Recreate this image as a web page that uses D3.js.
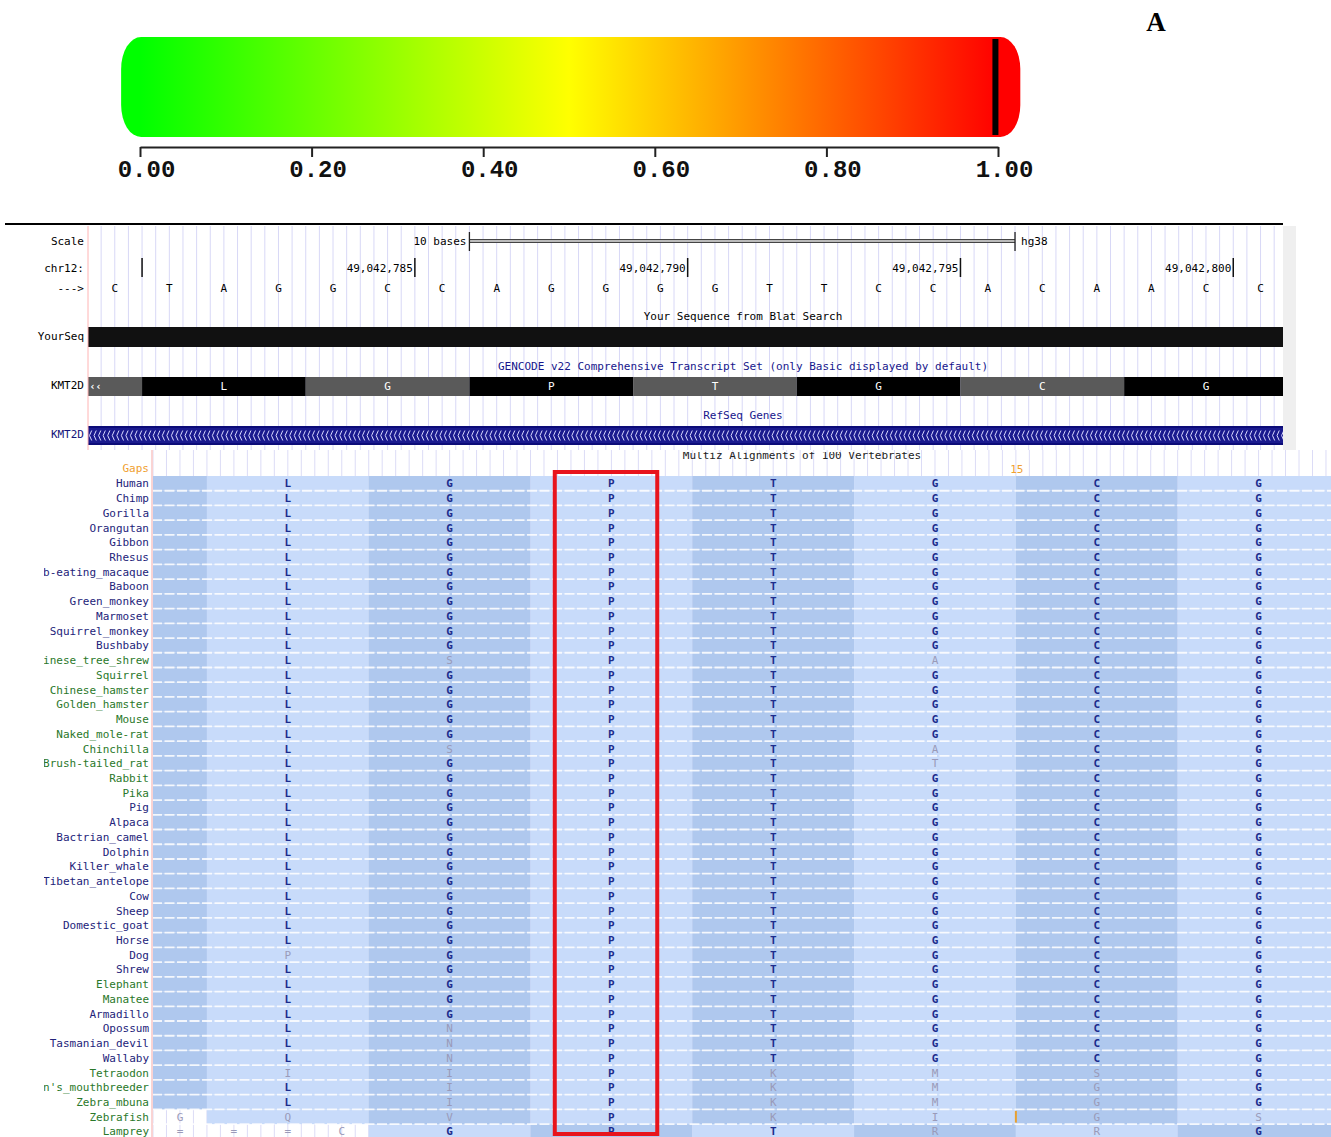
<!DOCTYPE html>
<html><head><meta charset="utf-8">
<script src="https://cdn.jsdelivr.net/npm/d3@7"></script>
<style>
body{margin:0;background:#fff}
svg{display:block}
text{font-family:"DejaVu Sans Mono",monospace;font-size:11px}
</style>
</head><body>
<svg id="c" width="1331" height="1137"></svg>
<script>
// ---------------- DATA ----------------
const colorStops = [{v:0,c:"#00ff00"},{v:0.5,c:"#ffff00"},{v:1,c:"#ff0000"}];
const colorTicks = [0,0.2,0.4,0.6,0.8,1.0];
const scoreMarker = 0.997;

const refBases = ["C","T","A","G","G","C","C","A","G","G","G","G","T","T","C","C","A","C","A","A","C","C"];
const firstBoundaryPos = 49042779;           // boundary index b <-> genomic position firstBoundaryPos + b
const posTicks = [49042780,49042785,49042790,49042795,49042800];
const scaleBar = {from:7, to:17, label:"10 bases", assembly:"hg38"};
const codonAA = ["L","G","P","T","G","C","G"];  // codon k covers bases 1+3k .. 4+3k

const species = ["Human","Chimp","Gorilla","Orangutan","Gibbon","Rhesus","Crab-eating_macaque","Baboon",
 "Green_monkey","Marmoset","Squirrel_monkey","Bushbaby","Chinese_tree_shrew","Squirrel","Chinese_hamster",
 "Golden_hamster","Mouse","Naked_mole-rat","Chinchilla","Brush-tailed_rat","Rabbit","Pika","Pig","Alpaca",
 "Bactrian_camel","Dolphin","Killer_whale","Tibetan_antelope","Cow","Sheep","Domestic_goat","Horse","Dog",
 "Shrew","Elephant","Manatee","Armadillo","Opossum","Tasmanian_devil","Wallaby","Tetraodon",
 "Burton's_mouthbreeder","Zebra_mbuna","Zebrafish","Lamprey"];
const greenSpecies = ["Chinese_tree_shrew","Squirrel","Chinese_hamster","Golden_hamster","Mouse","Naked_mole-rat",
 "Chinchilla","Brush-tailed_rat","Rabbit","Pika","Elephant","Manatee","Tetraodon","Burton's_mouthbreeder",
 "Zebra_mbuna","Zebrafish","Lamprey"];
const rowAA = [
 "LGPTGCG","LGPTGCG","LGPTGCG","LGPTGCG","LGPTGCG","LGPTGCG","LGPTGCG","LGPTGCG",
 "LGPTGCG","LGPTGCG","LGPTGCG","LGPTGCG","LSPTACG","LGPTGCG","LGPTGCG",
 "LGPTGCG","LGPTGCG","LGPTGCG","LSPTACG","LGPTTCG","LGPTGCG","LGPTGCG","LGPTGCG","LGPTGCG",
 "LGPTGCG","LGPTGCG","LGPTGCG","LGPTGCG","LGPTGCG","LGPTGCG","LGPTGCG","LGPTGCG","PGPTGCG",
 "LGPTGCG","LGPTGCG","LGPTGCG","LGPTGCG","LNPTGCG","LNPTGCG","LNPTGCG","IIPKMSG",
 "LIPKMGG","LIPKMGG","QVPKIGS"," GPTRRG"];
const leadCells = {"Zebrafish":"G","Lamprey":"===C"};
const flippedRows = ["Lamprey"];
const insertions = [{species:"Zebrafish", base:16}];
const gapsMarks = [{base:16, label:"15"}];
const highlight = {from:7.45, to:9.35};

// ---------------- DRAW ----------------
const svg = d3.select("#c");
const defs = svg.append("defs");

// ---- colour bar ----
const cx = d3.scaleLinear([0,1],[140,998]);
const grad = defs.append("linearGradient").attr("id","heat")
  .attr("gradientUnits","userSpaceOnUse").attr("x1",cx(0)).attr("x2",cx(1)).attr("y1",0).attr("y2",0);
grad.selectAll("stop").data(colorStops).join("stop")
  .attr("offset",d=>d.v).attr("stop-color",d=>d.c);
svg.append("rect").attr("x",cx(-0.022)).attr("y",37).attr("width",cx(1.026)-cx(-0.022)).attr("height",100)
  .attr("rx",20).attr("ry",32).attr("fill","url(#heat)");
svg.append("rect").attr("x",cx(scoreMarker)-3).attr("y",39).attr("width",6).attr("height",96).attr("fill","#000");
const ax = svg.append("g").attr("transform","translate(0,147)")
  .call(d3.axisBottom(cx).tickValues(colorTicks).tickFormat(d3.format(".2f")).tickSize(10).tickSizeOuter(0).tickPadding(3));
ax.select(".domain").attr("stroke","#222").attr("stroke-width",2);
ax.selectAll(".tick line").attr("stroke","#222").attr("stroke-width",2);
ax.selectAll(".tick text").style("font-family","'Liberation Mono',monospace").style("font-size","24px")
  .style("font-weight","bold").attr("fill","#111").attr("dx",6);
svg.append("text").attr("x",1156).attr("y",31).attr("text-anchor","middle")
  .style("font-family","'Liberation Serif',serif").style("font-size","27px").style("font-weight","bold").text("A");

// ---- top browser section ----
const topX = d3.scaleLinear([0, refBases.length],[87.5, 87.5 + refBases.length*54.56]);
const T = {top:226, bottom:450, left:88, right:1283};
defs.append("clipPath").attr("id","topclip").append("rect")
  .attr("x",T.left).attr("y",T.top).attr("width",T.right-T.left).attr("height",T.bottom-T.top);
svg.append("line").attr("x1",5).attr("x2",T.right).attr("y1",224).attr("y2",224).attr("stroke","#000").attr("stroke-width",2);
svg.append("rect").attr("x",T.right).attr("y",T.top).attr("width",13).attr("height",T.bottom-T.top).attr("fill","#efefef");
const topG = svg.append("g").attr("clip-path","url(#topclip)");
topG.append("g").selectAll("line").data(d3.range(0, refBases.length*4+1)).join("line")
  .attr("x1",d=>topX(d/4)).attr("x2",d=>topX(d/4)).attr("y1",T.top).attr("y2",T.bottom)
  .attr("stroke","#d8d8f6").attr("stroke-width",1);
svg.append("line").attr("x1",T.left).attr("x2",T.left).attr("y1",T.top).attr("y2",T.bottom).attr("stroke","#ffb4b4");

const leftLabel = (y,t,col)=>svg.append("text").attr("x",84).attr("y",y+4).attr("text-anchor","end").attr("fill",col||"#000").text(t);
leftLabel(241,"Scale"); leftLabel(268,"chr12:"); leftLabel(288,"--->");
leftLabel(336,"YourSeq"); leftLabel(385,"KMT2D"); leftLabel(434,"KMT2D","#14147a");

// scale bar
const sb = topG.append("g");
[239.5,242.5].forEach(y=>sb.append("line").attr("x1",topX(scaleBar.from)).attr("x2",topX(scaleBar.to)).attr("y1",y).attr("y2",y).attr("stroke","#444"));
sb.append("rect").attr("x",topX(scaleBar.from)).attr("y",240).attr("width",topX(scaleBar.to)-topX(scaleBar.from)).attr("height",2).attr("fill","#bbb");
[scaleBar.from,scaleBar.to].forEach(b=>sb.append("line").attr("x1",topX(b)).attr("x2",topX(b)).attr("y1",232).attr("y2",251).attr("stroke","#222").attr("stroke-width",1.3));
sb.append("text").attr("x",topX(scaleBar.from)-3).attr("y",245).attr("text-anchor","end").text(scaleBar.label);
sb.append("text").attr("x",topX(scaleBar.to)+6).attr("y",245).text(scaleBar.assembly);

// position ticks
const pt = topG.append("g").selectAll("g").data(posTicks).join("g")
  .attr("transform",d=>`translate(${topX(d-firstBoundaryPos)},0)`);
pt.append("line").attr("y1",258).attr("y2",277).attr("stroke","#111").attr("stroke-width",1.5);
pt.append("text").attr("x",-2).attr("y",272).attr("text-anchor","end")
  .text(d=>topX(d-firstBoundaryPos)-70>T.left ? d3.format(",")(d) : "");

// bases
topG.append("g").selectAll("text").data(refBases).join("text")
  .attr("x",(d,i)=>topX(i+0.5)).attr("y",292).attr("text-anchor","middle").text(d=>d);

// YourSeq
topG.append("text").attr("x",743).attr("y",320).attr("text-anchor","middle").text("Your Sequence from Blat Search");
topG.append("rect").attr("x",topX(0)).attr("y",327).attr("width",topX(refBases.length)-topX(0)).attr("height",20).attr("fill","#111");

// GENCODE
topG.append("text").attr("x",743).attr("y",370).attr("text-anchor","middle").attr("fill","#16168c")
  .text("GENCODE v22 Comprehensive Transcript Set (only Basic displayed by default)");
topG.append("rect").attr("x",topX(0)).attr("y",377).attr("width",topX(1)-topX(0)).attr("height",19).attr("fill","#5a5a5a");
const cod = topG.append("g").selectAll("g").data(codonAA).join("g");
cod.append("rect").attr("x",(d,k)=>topX(1+3*k)).attr("y",377).attr("width",(d,k)=>topX(4+3*k)-topX(1+3*k)).attr("height",19)
  .attr("fill",(d,k)=>k%2===0?"#000":"#5a5a5a");
cod.append("text").attr("x",(d,k)=>topX(2.5+3*k)).attr("y",390).attr("text-anchor","middle").attr("fill","#fff").text(d=>d);
topG.append("text").attr("x",topX(0)+2).attr("y",390).attr("fill","#fff").style("font-weight","bold").style("font-size","10px").text("‹‹");

// RefSeq
topG.append("text").attr("x",743).attr("y",419).attr("text-anchor","middle").attr("fill","#16168c").text("RefSeq Genes");
topG.append("rect").attr("x",topX(0)).attr("y",426).attr("width",topX(refBases.length)-topX(0)).attr("height",19).attr("fill","#0c0c78");
topG.append("rect").attr("x",topX(0)).attr("y",428).attr("width",topX(refBases.length)-topX(0)).attr("height",15).attr("fill","#1a1a8e");
let chev = "";
for (let x = topX(0)+2; x < T.right; x += 4.55) chev += `M${x+2.2},430.5L${x},435.5L${x+2.2},440.5`;
topG.append("path").attr("d",chev).attr("fill","none").attr("stroke","#d8d8ff").attr("stroke-width",1);

// ---- alignment section ----
const A = {top:450, left:152, right:1331, bottom:1137};
const alignX = d3.scaleLinear([0,22],[153, 153+22*53.93]);
const rowY = d3.scaleBand().domain(species).range([476, 476+species.length*14.73]);
defs.append("clipPath").attr("id","alclip").append("rect")
  .attr("x",A.left+1).attr("y",A.top).attr("width",A.right-A.left).attr("height",A.bottom-A.top);
defs.append("clipPath").attr("id","mzclip").append("rect")
  .attr("x",A.left).attr("y",452).attr("width",A.right-A.left).attr("height",20);
defs.append("clipPath").attr("id","lblclip").append("rect")
  .attr("x",44).attr("y",A.top).attr("width",106).attr("height",A.bottom-A.top);

svg.append("rect").attr("x",A.left).attr("y",A.top).attr("width",A.right-A.left).attr("height",A.bottom-A.top).attr("fill","#fff");
const alG = svg.append("g").attr("clip-path","url(#alclip)");
alG.append("g").selectAll("line").data(d3.range(0, 22*4+1)).join("line")
  .attr("x1",d=>alignX(d/4)).attr("x2",d=>alignX(d/4)).attr("y1",A.top).attr("y2",A.bottom)
  .attr("stroke","#dcdcf6").attr("stroke-width",1);
svg.append("line").attr("x1",A.left).attr("x2",A.left).attr("y1",A.top).attr("y2",A.bottom).attr("stroke","#f4a8a8");

svg.append("g").attr("clip-path","url(#mzclip)").append("text").attr("x",802).attr("y",459).attr("text-anchor","middle")
  .attr("fill","#222").text("Multiz Alignments of 100 Vertebrates");

// gaps row
svg.append("text").attr("x",149).attr("y",472).attr("text-anchor","end").attr("fill","#f0a030").text("Gaps");
alG.selectAll("text.gap").data(gapsMarks).join("text").attr("class","gap")
  .attr("x",d=>alignX(d.base)+1).attr("y",473).attr("text-anchor","middle").attr("fill","#f0a030").text(d=>d.label);

const LIGHT="#c8dbfa", DARK="#afc8ee", NAVY="#1c2c8c", GRAY="#9a9ab8";
species.forEach((name,i)=>{
  const y0 = rowY(name), h = rowY.bandwidth(), yc = y0 + h/2;
  const flip = flippedRows.includes(name);
  const lead = leadCells[name] || "";
  const g = alG.append("g");
  if (lead.length===0) g.append("rect").attr("x",alignX(0)).attr("y",y0).attr("width",alignX(1)-alignX(0)).attr("height",h).attr("fill",DARK);
  codonAA.forEach((ref,k)=>{
    const b0 = 1+3*k, b1 = 4+3*k;
    if (b1 <= lead.length) return;
    const light = (k%2===0) !== flip;
    g.append("rect").attr("x",alignX(b0)).attr("y",y0).attr("width",alignX(b1)-alignX(b0)).attr("height",h).attr("fill",light?LIGHT:DARK);
    const aa = rowAA[i][k];
    if (aa && aa!==" ") {
      const match = aa===rowAA[0][k];
      g.append("text").attr("x",alignX(b0+1.5)).attr("y",yc+4).attr("text-anchor","middle")
        .attr("fill",match?NAVY:GRAY).style("font-weight",match?"bold":"normal").text(aa);
    }
  });
  lead.split("").forEach((ch,j)=>{
    g.append("text").attr("x",alignX(j+0.5)).attr("y",yc+4).attr("text-anchor","middle").attr("fill",GRAY).text(ch);
  });
});
// row separators
alG.append("g").selectAll("line").data(species.slice(1)).join("line")
  .attr("x1",A.left).attr("x2",A.right).attr("y1",d=>rowY(d)).attr("y2",d=>rowY(d))
  .attr("stroke","#fff").attr("stroke-width",1.8).attr("stroke-dasharray","10,2.5").attr("opacity",0.85);
// insertion markers
alG.selectAll("line.ins").data(insertions).join("line").attr("class","ins")
  .attr("x1",d=>alignX(d.base)).attr("x2",d=>alignX(d.base))
  .attr("y1",d=>rowY(d.species)+1.5).attr("y2",d=>rowY(d.species)+rowY.bandwidth()-1.5)
  .attr("stroke","#e8a030").attr("stroke-width",2);

// species labels
svg.append("g").attr("clip-path","url(#lblclip)").selectAll("text").data(species).join("text")
  .attr("x",149).attr("y",d=>rowY(d)+rowY.bandwidth()/2+4).attr("text-anchor","end")
  .attr("fill",d=>greenSpecies.includes(d)?"#2a782a":"#23237a").text(d=>d);

// highlight box
svg.append("rect").attr("x",alignX(highlight.from)).attr("y",472)
  .attr("width",alignX(highlight.to)-alignX(highlight.from)).attr("height",662)
  .attr("fill","none").attr("stroke","#e8141c").attr("stroke-width",4);
</script>
</body></html>
